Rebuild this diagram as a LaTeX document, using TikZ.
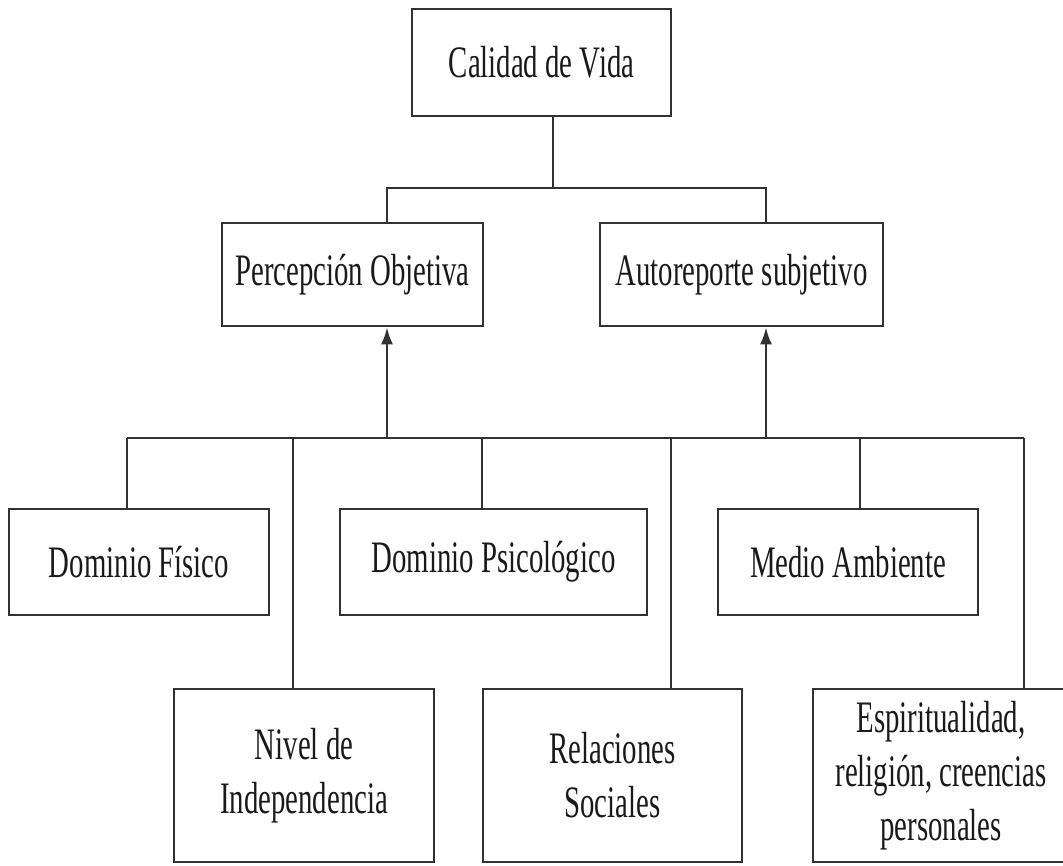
\documentclass[tikz,border=0pt]{standalone}
\usepackage{fontspec}
\setmainfont{Liberation Serif}[FakeStretch=0.64]
\usepackage{tikz}
\usetikzlibrary{arrows.meta}
\definecolor{lineagris}{RGB}{50,50,50}

\begin{document}
\begin{tikzpicture}[x=1pt,y=-1pt,
  caja/.style={draw=lineagris,line width=2.6pt,inner sep=0pt,align=center,
    font=\fontsize{45}{54}\selectfont,text=black!90},
  enlace/.style={draw=lineagris,line width=2.5pt}]
  \useasboundingbox (0,0) rectangle (1063,865);
  \clip (0,0) rectangle (1063,865);
  \node[caja,minimum width=259,minimum height=107] (calidad) at (541.5,62.5) {Calidad de Vida};
  \node[caja,minimum width=261,minimum height=103] (objetiva) at (352.5,274.5) {Percepción Objetiva};
  \node[caja,minimum width=283,minimum height=103] (subjetiva) at (741.5,274.5) {Autoreporte subjetivo};
  \node[caja,minimum width=260,minimum height=106] (fisico) at (139,562) {Dominio Físico};
  \node[caja,minimum width=307,minimum height=106] (psicologico) at (493.5,562) {Dominio Psicológico};
  \node[caja,minimum width=260,minimum height=106] (ambiente) at (848,562) {Medio Ambiente};
  \node[caja,minimum width=260,minimum height=173] (independencia) at (304,775.5) {Nivel de\\Independencia};
  \node[caja,minimum width=259,minimum height=173] (sociales) at (612.5,775.5) {Relaciones\\Sociales};
  \node[caja,minimum width=256,minimum height=173] (espiritualidad) at (941,775.5) {Espiritualidad,\\religión, creencias\\personales};
  \coordinate (raiz) at (553,188);
  \coordinate (izq) at (387,188);
  \coordinate (der) at (766,188);
  \draw[enlace] (calidad.south -| raiz) -- (raiz);
  \draw[enlace] (objetiva.north -| izq) -- (izq) -- (der) -- (subjetiva.north -| der);
  \foreach \n/\x in {fisico/127,independencia/293,psicologico/482,sociales/671,ambiente/860,espiritualidad/1024}{
    \coordinate (b-\n) at (\x,438);
    \draw[enlace] (b-\n) -- (\n.north -| b-\n);
  }
  \draw[enlace] (b-fisico) -- (b-espiritualidad);
  \foreach \n/\x in {objetiva/387,subjetiva/766}{
    \coordinate (s-\n) at (\x,438);
    \draw[enlace,-{Latex[length=17pt,width=12pt]}] (s-\n) -- (\n.south -| s-\n);
  }
\end{tikzpicture}
\end{document}
